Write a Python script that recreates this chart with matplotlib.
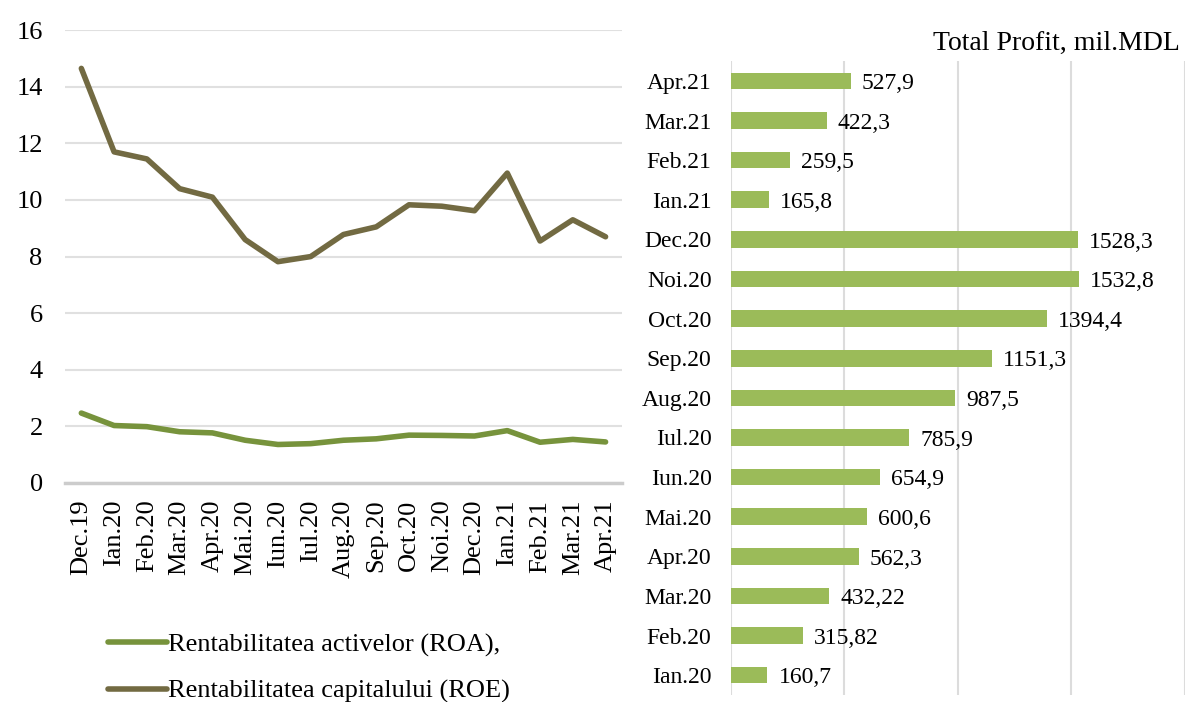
import matplotlib.pyplot as plt

plt.rcParams['font.family'] = ['Liberation Serif', 'DejaVu Serif']

# Left chart: profitability ratios (%)
months = ['Dec.19', 'Ian.20', 'Feb.20', 'Mar.20', 'Apr.20', 'Mai.20', 'Iun.20', 'Iul.20',
          'Aug.20', 'Sep.20', 'Oct.20', 'Noi.20', 'Dec.20', 'Ian.21', 'Feb.21', 'Mar.21', 'Apr.21']
roa = [2.47, 2.03, 1.99, 1.81, 1.77, 1.51, 1.36, 1.39, 1.51, 1.56, 1.69, 1.68, 1.66, 1.85, 1.44, 1.54, 1.45]
roe = [14.65, 11.7, 11.45, 10.4, 10.1, 8.6, 7.82, 8.0, 8.78, 9.05, 9.83, 9.78, 9.62, 10.95, 8.55, 9.3, 8.7]

# Right chart: total profit, mil. MDL
profit_months = ['Ian.20', 'Feb.20', 'Mar.20', 'Apr.20', 'Mai.20', 'Iun.20', 'Iul.20', 'Aug.20',
                 'Sep.20', 'Oct.20', 'Noi.20', 'Dec.20', 'Ian.21', 'Feb.21', 'Mar.21', 'Apr.21']
profit = [160.7, 315.82, 432.22, 562.3, 600.6, 654.9, 785.9, 987.5,
          1151.3, 1394.4, 1532.8, 1528.3, 165.8, 259.5, 422.3, 527.9]
profit_labels = ['160,7', '315,82', '432,22', '562,3', '600,6', '654,9', '785,9', '987,5',
                 '1151,3', '1394,4', '1532,8', '1528,3', '165,8', '259,5', '422,3', '527,9']

fig = plt.figure(figsize=(11.94, 7.02), dpi=100)

# ---- line chart ----
ax1 = fig.add_axes([0.0544, 0.312, 0.4665, 0.645])
x = range(len(months))
l1, = ax1.plot(x, roa, color='#77933c', lw=4, solid_capstyle='round',
               label='Rentabilitatea activelor (ROA),')
l2, = ax1.plot(x, roe, color='#726a42', lw=4, solid_capstyle='round',
               label='Rentabilitatea capitalului (ROE)')
ax1.set_xlim(-0.5, len(months) - 0.5)
ax1.set_ylim(0, 16)
ax1.set_yticks(range(0, 17, 2))
ax1.set_xticks(list(x))
ax1.set_xticklabels(months, rotation=90)
ax1.grid(axis='y', color='#e0e0e0', lw=1.5)
ax1.set_axisbelow(True)
for s in ['top', 'right', 'left']:
    ax1.spines[s].set_visible(False)
ax1.spines['bottom'].set_color('#cccccc')
ax1.spines['bottom'].set_linewidth(2.5)
ax1.tick_params(axis='both', length=0, labelsize=19, pad=12)
ax1.tick_params(axis='y', pad=16)

fig.legend(handles=[l1, l2], loc='upper left', bbox_to_anchor=(0.082, 0.113),
           frameon=False, fontsize=19, handlelength=2.2, handletextpad=0.05,
           labelspacing=0.85, borderaxespad=0)

# ---- bar chart ----
ax2 = fig.add_axes([0.6122, 0.01, 0.380, 0.903])
y = range(len(profit_months))
bars = ax2.barh(y, profit, height=0.42, color='#9bbb59')
ax2.set_ylim(-0.5, len(profit_months) - 0.5)
ax2.set_xlim(0, 2000)
ax2.set_xticks([0, 500, 1000, 1500, 2000])
ax2.set_xticklabels([])
ax2.set_yticks(list(y))
ax2.set_yticklabels(profit_months)
ax2.grid(axis='x', color='#dcdcdc', lw=1.5)
ax2.set_axisbelow(True)
for s in ['top', 'right', 'left', 'bottom']:
    ax2.spines[s].set_visible(False)
ax2.tick_params(axis='both', length=0, labelsize=17, pad=14)
for b, lab in zip(bars, profit_labels):
    ax2.annotate(lab, (b.get_width(), b.get_y() + b.get_height() / 2),
                 xytext=(8, -2), textcoords='offset points',
                 va='center', ha='left', fontsize=17)
ax2.set_title('Total Profit, mil.MDL', loc='right', fontsize=20, pad=8, x=0.99)

fig.savefig('out.png', dpi=100)
